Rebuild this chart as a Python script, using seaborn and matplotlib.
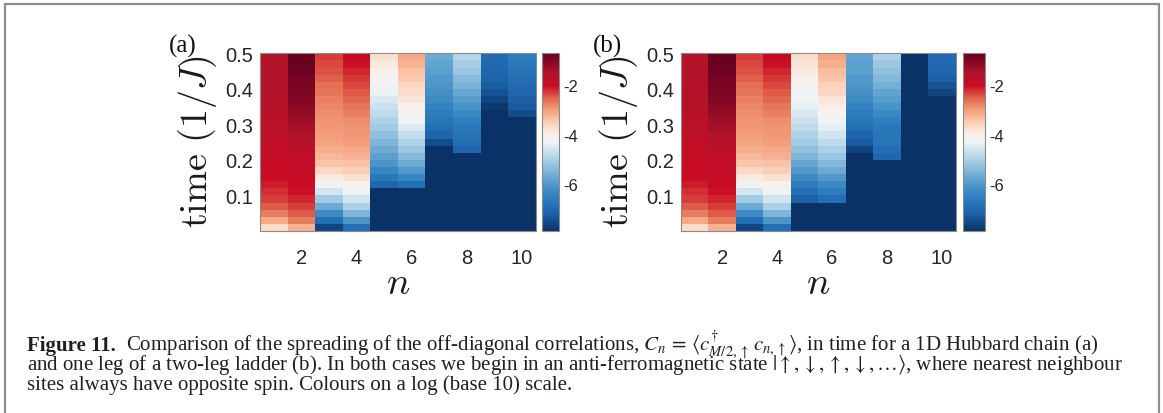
import numpy as np
import pandas as pd
import matplotlib
matplotlib.use("Agg")
import matplotlib.pyplot as plt
import seaborn as sns
from matplotlib.colors import LinearSegmentedColormap
from matplotlib.patches import Rectangle

# ---------------- data (log10 |C_n|), rows = time bins, bottom -> top ----------------
times = [0.01, 0.03, 0.05, 0.07, 0.09, 0.11, 0.13, 0.15, 0.17, 0.19, 0.21, 0.23, 0.25,
         0.27, 0.29, 0.31, 0.33, 0.35, 0.37, 0.39, 0.41, 0.43, 0.45, 0.47, 0.49]
sites = [1, 2, 3, 4, 5, 6, 7, 8, 9, 10]
FLOOR = -8.0

a1 = [-3.7, -3.1, -2.7, -2.45, -2.3, -2.2, -2.1, -2.0, -2.0, -1.95, -1.9, -1.85, -1.8,
      -1.75, -1.7, -1.7, -1.65, -1.6, -1.6, -1.6, -1.55, -1.55, -1.55, -1.55, -1.55]
a2 = [-3.2, -2.7, -2.45, -2.3, -2.15, -2.05, -2.0, -1.95, -1.9, -1.85, -1.8, -1.7, -1.6,
      -1.5, -1.4, -1.3, -1.2, -1.1, -1.0, -0.95, -0.9, -0.85, -0.8, -0.75, -0.75]
a3 = [-7.6, -6.9, -6.3, -5.7, -5.1, -4.6, -4.2, -3.9, -3.6, -3.4, -3.25, -3.15, -3.05,
      -3.0, -2.95, -2.9, -2.85, -2.8, -2.75, -2.65, -2.6, -2.5, -2.4, -2.35, -2.3]
a4 = [-6.9, -6.1, -5.5, -5.0, -4.6, -4.3, -4.0, -3.75, -3.5, -3.35, -3.2, -3.1, -3.0,
      -2.95, -2.9, -2.85, -2.75, -2.65, -2.55, -2.45, -2.35, -2.25, -2.15, -2.05, -1.95]
a5 = [FLOOR] * 6 + [-7.1, -6.7, -6.4, -6.1, -5.9, -5.7, -5.5, -5.3, -5.1, -4.95, -4.8,
                    -4.65, -4.5, -4.35, -4.25, -4.15, -4.0, -3.9, -3.75]
a6 = [FLOOR] * 6 + [-6.9, -6.4, -6.0, -5.7, -5.45, -5.2, -5.0, -4.75, -4.5, -4.3, -4.15,
                    -4.0, -3.85, -3.7, -3.6, -3.45, -3.35, -3.2, -3.1]
a7 = [FLOOR] * 12 + [-7.5, -7.1, -6.9, -6.75, -6.6, -6.45, -6.3, -6.2, -6.1, -6.0, -5.9,
                     -5.8, -5.7]
a8 = [FLOOR] * 11 + [-7.1, -6.9, -6.8, -6.7, -6.55, -6.35, -6.15, -5.95, -5.75, -5.55,
                     -5.4, -5.2, -5.05, -4.9]
a9 = [FLOOR] * 17 + [-7.8, -7.6, -7.4, -7.25, -7.15, -7.1, -7.05, -7.0]
a10 = [FLOOR] * 16 + [-7.5, -7.3, -7.2, -7.1, -7.0, -6.9, -6.8, -6.7, -6.6]

b1 = [-3.7, -3.1, -2.7, -2.45, -2.3, -2.2, -2.1, -2.0, -2.0, -1.95, -1.9, -1.85, -1.8,
      -1.75, -1.7, -1.7, -1.65, -1.6, -1.6, -1.6, -1.55, -1.55, -1.55, -1.55, -1.55]
b2 = [-3.2, -2.7, -2.45, -2.3, -2.15, -2.05, -2.0, -1.95, -1.9, -1.85, -1.8, -1.7, -1.6,
      -1.5, -1.4, -1.3, -1.2, -1.1, -1.0, -0.95, -0.9, -0.85, -0.8, -0.75, -0.75]
b3 = [-7.6, -6.9, -6.3, -5.7, -5.1, -4.6, -4.2, -3.9, -3.6, -3.4, -3.25, -3.15, -3.05,
      -3.0, -2.95, -2.9, -2.85, -2.8, -2.75, -2.65, -2.6, -2.5, -2.4, -2.35, -2.3]
b4 = [-6.9, -6.1, -5.5, -5.0, -4.6, -4.3, -4.0, -3.75, -3.5, -3.35, -3.2, -3.1, -3.0,
      -2.95, -2.9, -2.85, -2.75, -2.65, -2.55, -2.45, -2.35, -2.25, -2.15, -2.05, -1.95]
b5 = [FLOOR] * 4 + [-7.2, -6.9, -6.6, -6.3, -6.0, -5.75, -5.5, -5.3, -5.1, -4.95, -4.8,
                    -4.65, -4.5, -4.4, -4.3, -4.2, -4.1, -4.0, -3.9, -3.8, -3.7]
b6 = [FLOOR] * 4 + [-6.9, -6.6, -6.3, -6.0, -5.7, -5.45, -5.2, -5.0, -4.8, -4.6, -4.4,
                    -4.25, -4.1, -3.95, -3.8, -3.65, -3.55, -3.4, -3.3, -3.15, -3.05]
b7 = [FLOOR] * 11 + [-7.6, -7.3, -7.1, -6.9, -6.75, -6.6, -6.45, -6.3, -6.2, -6.1, -6.0,
                     -5.9, -5.85, -5.8]
b8 = [FLOOR] * 10 + [-7.1, -6.9, -6.8, -6.75, -6.7, -6.55, -6.35, -6.15, -5.95, -5.8,
                     -5.6, -5.45, -5.3, -5.15, -5.0]
b9 = [FLOOR] * 25
b10 = [FLOOR] * 19 + [-7.6, -7.4, -7.2, -7.1, -7.05, -7.0]

panel_a = [a1, a2, a3, a4, a5, a6, a7, a8, a9, a10]
panel_b = [b1, b2, b3, b4, b5, b6, b7, b8, b9, b10]

xtick_vals = [2, 4, 6, 8, 10]
ytick_vals = [0.1, 0.2, 0.3, 0.4, 0.5]
ytick_labels = ["0.1", "0.2", "0.3", "0.4", "0.5"]
cbar_ticks = [-2, -4, -6]
cbar_labels = ["-2", "-4", "-6"]
VMIN, VMAX = -7.9, -0.7

caption_bold = "Figure 11."
caption_l1 = (r"Comparison of the spreading of the off-diagonal correlations, "
              r"$C_n\,=\,\langle c^{\dagger}_{M/2,\uparrow}\,c_{n,\uparrow}\rangle$, "
              r"in time for a 1D Hubbard chain (a)")
caption_l2 = (r"and one leg of a two-leg ladder (b). In both cases we begin in an "
              r"anti-ferromagnetic state $|\uparrow,\downarrow,\uparrow,\downarrow,\ldots\rangle$, "
              r"where nearest neighbour")
caption_l3 = "sites always have opposite spin. Colours on a log (base 10) scale."

# ---------------- style ----------------
sns.set_style("white")
plt.rcParams["font.family"] = ["Liberation Sans", "DejaVu Sans"]
plt.rcParams["axes.unicode_minus"] = False
plt.rcParams["mathtext.fontset"] = "cm"

cmap = LinearSegmentedColormap.from_list("matlab_rdbu", [
    (0.00, "#0a3266"),
    (0.10, "#1d63ab"),
    (0.19, "#2f80be"),
    (0.26, "#4f98cb"),
    (0.40, "#a9cfe6"),
    (0.50, "#eef3f6"),
    (0.54, "#f8f1ec"),
    (0.61, "#fbd0b8"),
    (0.68, "#f4a07c"),
    (0.75, "#e0644b"),
    (0.82, "#c90a24"),
    (0.89, "#b0142a"),
    (1.00, "#67001f"),
])

W, H = 1163, 414
fig = plt.figure(figsize=(W / 100, H / 100), dpi=100)
fig.patch.set_facecolor("white")


def frac(x0, y0, x1, y1):
    return [x0 / W, 1 - y1 / H, (x1 - x0) / W, (y1 - y0) / H]


panels = [
    (panel_a, "(a)", (260, 54.3, 535.7, 232), (542.3, 54.3, 558.7, 232), 183),
    (panel_b, "(b)", (681, 54.3, 955.7, 232), (963.3, 54.3, 985, 232), 607),
]

dt = times[1] - times[0]
spine_col = "#8a8a8a"
for cols, tag, axbox, cbbox, tagx in panels:
    ax = fig.add_axes(frac(*axbox))
    cax = fig.add_axes(frac(*cbbox))
    df = pd.DataFrame(np.column_stack(cols), index=times, columns=sites)
    sns.heatmap(df, ax=ax, cbar_ax=cax, cmap=cmap, vmin=VMIN, vmax=VMAX,
                xticklabels=False, yticklabels=False)
    ax.set_ylim(0, len(times))
    ax.set_xlim(0, len(sites))
    ax.set_xlabel("")
    ax.set_ylabel("")
    ax.set_xticks([sites.index(n) + 0.5 for n in xtick_vals])
    ax.set_xticklabels([str(n) for n in xtick_vals], rotation=0)
    ax.set_yticks([t / dt for t in ytick_vals])
    ax.set_yticklabels(ytick_labels, rotation=0)
    for s in ax.spines.values():
        s.set_visible(True)
        s.set_color(spine_col)
        s.set_linewidth(0.8)
    ax.tick_params(axis="both", direction="in", length=3.5, width=0.7,
                   color="#555555", top=True, right=True, labelsize=14.5,
                   labelcolor="#262626")
    ax.tick_params(axis="x", pad=12)
    ax.tick_params(axis="y", pad=5)

    ax.text(-0.2285, 0.51, r"$\mathrm{time}\ (1/J)$", transform=ax.transAxes,
            rotation=90, ha="center", va="center", fontsize=27.5,
            math_fontfamily="cm", color="#1a1a1a")
    ax.text(0.5, -0.293, r"$n$", transform=ax.transAxes, ha="center",
            va="center", fontsize=28, math_fontfamily="cm", color="#1a1a1a")

    cb = ax.collections[0].colorbar
    cb.set_ticks(cbar_ticks)
    cb.set_ticklabels(cbar_labels)
    cb.outline.set_visible(True)
    cb.outline.set_linewidth(0.8)
    cb.outline.set_edgecolor(spine_col)
    cax.tick_params(direction="in", length=2.5, width=0.6, color="#555555",
                    labelsize=12, pad=3, labelcolor="#262626")

    fig.text(tagx / W, 1 - 46 / H, tag, ha="center", va="center", fontsize=18,
             family="Liberation Serif", color="#111111")

# ---------------- caption ----------------
cap_col = "#231f20"
cap_size = 15.0
x0 = 27 / W
renderer = fig.canvas.get_renderer()
tb = fig.text(x0, 1 - 351 / H, caption_bold, fontsize=cap_size, weight="bold",
              family="Liberation Serif", color=cap_col, va="baseline")
bw = tb.get_window_extent(renderer).width
fig.text(x0 + (bw + 10) / W, 1 - 351 / H, caption_l1, fontsize=cap_size,
         family="Liberation Serif", color=cap_col, va="baseline",
         math_fontfamily="stix")
fig.text(x0, 1 - 370.5 / H, caption_l2, fontsize=cap_size, family="Liberation Serif",
         color=cap_col, va="baseline", math_fontfamily="stix")
fig.text(x0, 1 - 390 / H, caption_l3, fontsize=cap_size, family="Liberation Serif",
         color=cap_col, va="baseline", math_fontfamily="stix")

# frame (open at the bottom, as in the cropped reference)
frame = Rectangle((5 / W, -0.1), (1159 - 5) / W, 1.1 - 5 / H,
                  transform=fig.transFigure, fill=False, edgecolor="#8c8c8c",
                  linewidth=1.6, clip_on=False)
fig.add_artist(frame)

fig.savefig("out.png", dpi=100)
